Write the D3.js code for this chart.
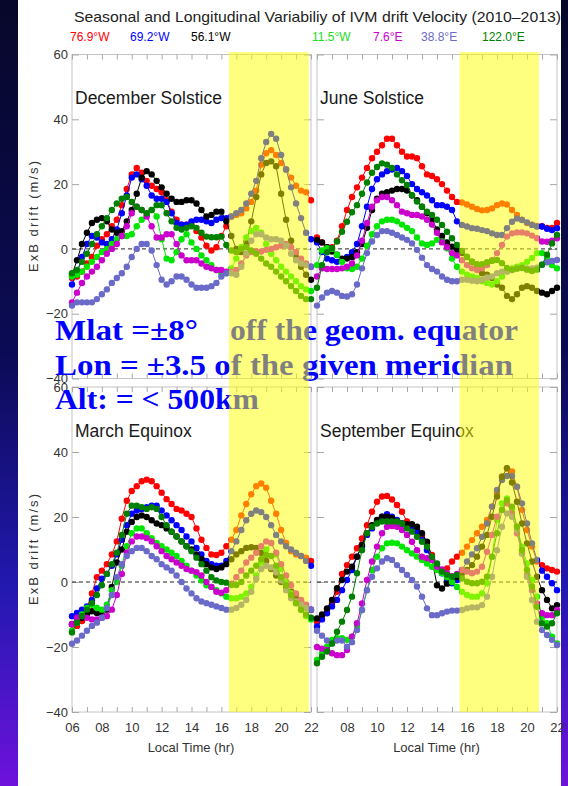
<!DOCTYPE html>
<html>
<head>
<meta charset="utf-8">
<script src="https://cdn.jsdelivr.net/npm/d3@7"></script>
<style>
  body { margin: 0; background: #fff; }
  text { font-family: "Liberation Sans", Arial, sans-serif; }
  text.note { font-family: "Liberation Serif", "Times New Roman", serif; font-weight: bold; }
</style>
</head>
<body>
<div id="chart"></div>
<script>
// ---- data (20-min steps from 06 to 22 LT) ----
var hours = d3.range(49).map(function(i){ return 6 + i / 3; });

var lonLabels = ["76.9°W", "69.2°W", "56.1°W", "11.5°W", "7.6°E", "38.8°E", "122.0°E"];
var lonColors = ["#ff0000", "#0000ff", "#000000", "#00e600", "#cc00cc", "#6a6ac8", "#008000"];
var legendX = [70, 130, 191, 312, 373, 421, 482];

// December Solstice
var decRed = [-9,-8.5,-7,-4.5,-2.5,1,3,4.5,7,9,13.5,18.5, 23,25,23.5,21,19.5,18.5,17.5,15,11.5,9,7.5,7.5,
  7.5,5.5,3.5,1,-0.5,0.5,4,7,10,10.5,11,12.5, 14.5,18,26,29.5,30.5,29,26.5,24.5,22,19.5,18,17.5, 15];
var decBlue = [-11,-7.5,-2.5,1.5,4,3.5,2,1.5,3,6,11,16.5, 22,23,21.5,19.5,16.5,15.5,15.5,14.5,11,8,7.5,7.5,
  8.5,9,9,8.5,8,9,9.5,9.5,10,11,12,14, 17,21,28,33,35.5,34,29,24.5,19,14,9.5,5, 3];
var decBlack = [-8,-3.5,1.5,5,8,9,9.5,8.5,6,5,5.5,8.5, 12,17,22,24,23,21,19,17,15.5,14.5,14.5,15,
  15,14,12,10,10.5,11.5,11.5,8.5,4,0,-1,2, 8.5,16,23,26.5,27,25.5,17,9,2.5,-2.5,-5.5,-8, -9.5];
var decLime = [-8.5,-8,-7,-5.5,-4,-2.5,-1,0,1.5,3,4,4, 4.5,7,9,10.5,12,10,3,-3,-3.5,-1,3,4.5,
  2,0,-2,-3.5,-5,-6.5,-7.5,-7.5,-6,-3,0.5,3.5, 5.5,6.5,5,1.5,-1.5,-3.5,-5.5,-7,-8.5,-10,-11.5,-12.5, -13];
var decMagenta = [-16.5,-13.5,-10.5,-8.5,-7,-5.5,-3.5,-1.5,0,1.5,4,7, 11,13,12,10,7,3.5,3.5,4.5,4.5,1.5,-2,-3.5,
  -3.5,-3.5,-4.5,-5.5,-6,-6.5,-6.5,-7,-7,-6.5,-4.5,-2, -1,-0.8,-0.8,-0.3,0,0.5,1,1.5,0.5,-1,-3,-4.5, -5.5];
var decSlate = [-17.5,-16.5,-16.5,-16.5,-16.5,-15.5,-14,-12.5,-10.5,-9,-7.5,-5.5, -2.5,0,1.5,1.5,-0.5,-5,-9.5,-11,-10,-8.5,-8.5,-9.5,
  -11,-12,-12,-12,-11.5,-10.5,-8.5,-7.5,-7.5,-8,-5.5,-1.5, 2.5,4.5,4.5,3.5,3,3,2.5,1,-1.5,-3.5,-4.5,-5, -5.5];
var decGreen = [-7.5,-6.5,-4,-1.5,1.5,4.5,7,9.5,12,14,15.5,16, 14.5,13,12,11,12,13.5,13.5,11,8.5,6.5,6,6.5,
  7,6.5,5,3.8,3.6,3.6,3.8,1.2,-0.5,-1,0,0.5, -0.5,-1.5,-3,-4.5,-5.5,-7,-8.5,-10,-11.5,-13,-14.5,-15.5, -15.5];

// June Solstice
var junRed = [3.5,2,0.5,0.5,2.5,7,12,16,19,22,25,28, 30,32,34,34,32,30,28.5,28.5,28,25.5,23,22.5,
  21.5,20,18,16,14.5,14.3,13.7,13,12.3,11.9,12,12.5, 13.5,14,13.7,12,10.5,9,8,7.5,7,7,6.5,6.5, 8];
var junBlue = [2,-1,-3,-3.5,-4,-3.5,-2.5,-1,1.5,7,13,18.5, 21.5,23,24,24.5,25,24,22.5,20,18.5,17.5,16.5,15,
  13.5,13.5,13,12,8.5,7.4,6.9,6.4,6.2,5.8,5.5,4.8, 4.3,4.3,6.4,8.4,9.4,8.9,8.2,7.4,6.9,6.9,6.2,5.8, 6.4];
var junBlack = [2.8,2,0.5,-0.8,-1.8,-3,-3,-2.5,-1,1.5,6.5,12, 15.5,17,17.5,18,18.5,18.5,18,16.5,15,13,11,9,
  6,4,2,0.7,-0.3,-1.3,-2.5,-4,-6,-7.5,-8,-9, -11,-12,-14.5,-15.5,-14,-12,-11.5,-12,-13,-13.5,-14,-13, -12];
var junLime = [-5,-0.5,0.2,0,-1.8,-4,-6,-6.2,-5.5,-3,1,4.5, 7,8.5,9,9,8.5,7.5,6.5,5.5,3.5,1.7,1.2,1.7,
  2.8,2.3,0.2,-3,-5.5,-7,-8,-8.5,-9,-10,-10.5,-11, -10,-8.5,-7,-6,-5.5,-5,-4,-2.8,-1.3,-1.3,-2.5,-5, -6];
var junMagenta = [-8.5,-6,-6.2,-6.2,-6.2,-6,-5.5,-4.5,-2,2.5,8,13, 15,16,16,15,13.5,11.5,11,10.5,10.5,10,9,7.5,
  5,2,0.5,-1.3,-2,-3.5,-5,-6,-6.5,-6,-5,-3.5, -1.3,1.2,3.8,4.8,5.1,5.1,4.8,4.1,3.3,2.3,2.2,2.5, 3.3];
var junSlate = [-17.5,-15,-13.5,-13,-13.5,-14.5,-14.7,-14,-11,-6,-1.3,2.3, 4.3,5.5,5.5,5,4.3,3.5,2.8,1.7,-0.3,-2.7,-5,-6.2,
  -7,-8.5,-9.5,-10,-10,-9.5,-9.5,-9.8,-10,-9.5,-8.8,-8.5, -7.5,-7,-7,-6.5,-6,-5.8,-6,-6,-5.8,-4.9,-4.1,-3.7, -3.4];
var junGreen = [-12,-5,-1,0.2,2.3,5.3,8.4,11.3,13.5,17,20.5,23.5, 25.3,26.4,26,25,23,21.2,19.7,16.6,14.6,13,11.5,10.5,
  9,7.4,5.3,3.3,1.2,-0.6,-2.4,-3.9,-4.7,-4.7,-4.1,-3.7, -3.4,-4.4,-5.9,-6.4,-6.1,-5.9,-6.4,-6.8,-6.4,-4.9,-1.8,1.7, 4.3];

// March Equinox
var marRed = [-13,-13.5,-12,-8,-3.5,1.5,3.5,5.5,8.5,12.5,19.5,25, 28,29.5,31,31.5,31,29.5,27.5,25.5,24,22.5,22,21,
  20,16.5,13,10.5,8.5,8.3,9,11,13,16,20.5,24, 27,29.5,30.3,29,25,21,16,12,9.5,8.5,8,7.5, 6.5];
var marBlue = [-10.5,-9.5,-8.5,-7.5,-5.5,-2,1,2.5,5,8.5,13,17.5, 21,22,22.5,23,23.5,23.5,22,20.5,19,17.5,16,14,
  12.5,10.5,8.5,6.5,5.5,5,5,6.5,9.5,12.5,16,19, 21,22,21.5,20,17.5,14.5,12.5,11,10,9,8,6.5, 5];
var marBlack = [-13,-12,-11,-10,-9,-9.5,-9.5,-8.5,-1.5,6,10,15.5, 18.5,20,20.5,20,19,18,17.5,16.5,15.5,14,12.5,11,
  10,8.5,7,5.5,4.5,4,4.5,5.5,7,8.5,9.5,10.5, 10.7,10.5,9,6.5,4,2,0,-1.5,-3,-4.5,-6,-7.5, -8.5];
var marLime = [-15,-12.5,-10,-8,-7,-8,-8.5,-7,-2.5,0,5,11, 15,16.5,16.5,15,13.5,12,11,10,9,8,6.5,5,
  3.5,2,0.5,-1,-1.5,-2.5,-3.5,-4.5,-5,-5,-4.5,-3.5, -1.5,2,6,10,12,8.5,4,0,-3.5,-6.5,-8.5,-10.5, -11.5];
var marMagenta = [-13,-11,-10.5,-11,-11.5,-11.5,-11,-10.5,-8.5,-4,2.5,9, 12.5,14,14,13.5,12.5,11,9.5,8,7,6,5,4,
  3.5,3,2,0,-1.5,-3,-3.3,-2.5,-0.5,1.5,3.5,6, 7.5,9,11,12.5,12,9,5.5,2,-1,-3.5,-5.5,-7, -8.5];
var marSlate = [-19,-18,-16.5,-15,-13.5,-12.5,-11,-8,-4,1.5,5.5,8, 9.5,10.5,10.5,9.5,8,7,5.5,4.5,3.5,2,0,-2,
  -3.5,-5,-6,-6.5,-7,-7.5,-8,-8.5,-8.5,-8,-7,-5.5, -3,1,4,5,4.5,3,0.5,-2.5,-5,-6,-7,-8, -8.5];
var marGreen = [-15.5,-12.5,-10.5,-8.5,-6.5,-4,-1,2.5,5.5,9,14.5,21, 23.5,23.5,23,22.5,23,22.5,20,17.5,15.5,14,12.5,11,
  9.5,7.5,5.5,3.5,1.5,0.5,0,-0.2,-0.9,-0.9,0,2, 3.5,5,7,8.3,8,5,1.5,-1,-4,-6.5,-8.5,-10, -11];

// September Equinox
var sepRed = [-12.2,-10.5,-8.6,-6.6,-3,2.5,5.2,7.8,10.4,13.4,17.5,21.6, 24.7,26.3,26.5,25.4,23.7,21.6,18.6,17.5,16.2,14.5,11.9,8.3,
  4.5,3.2,4.2,6.3,7.8,9,10.9,12.9,15,17,19.1,23.2, 27.3,32.4,35,34,29.3,22.2,16,10.9,6.3,5.2,4.2,3.7, 3.2];
var sepBlue = [-13.7,-11.5,-9.6,-7.5,-5.5,-2.5,0.6,3.7,7.8,10.9,14.5,16.5, 18.6,20.1,20.9,20.1,19.1,18,17.5,17,15.5,12.9,9.8,6.8,
  5.2,2.7,0.6,-0.4,0.6,3.7,6.3,8.5,10.4,13.9,18,23.2, 28.3,31.4,32.6,32.6,29.3,24.2,18,11.9,6.8,3.5,1.6,-0.4, -2.5];
var sepBlack = [-11.2,-10,-8.1,-5.5,-1.9,0.6,3.2,4.7,7.8,11.4,15,17.5, 19.1,20.1,20.1,19.6,18.6,18,17.8,17.8,17,15,12.4,7,
  -1,-2,-0.5,1.1,1.6,2.7,3.7,5.2,7.8,10.9,14.5,20.1, 26.3,32.4,35,30.6,24.7,18,11.9,6.3,1.6,-2.5,-5.5,-8.1, -7.1];
var sepLime = [-24,-22,-19.9,-17.8,-17.3,-17.3,-17.8,-16.8,-13.7,-8.6,-2.5,3.7, 7.8,10.4,11.9,12.1,11.9,10.9,9.8,8.8,7.8,6.8,5.7,4.7,
  3.7,2.7,1.5,0,-1.5,-3,-4,-4.5,-4.5,-3.5,-0.4,7.8, 19.1,24.2,25.7,22.2,17,10.9,5.7,0.6,-4.5,-10.7,-12.7,-16.8, -18.9];
var sepMagenta = [-20,-20.5,-20.9,-21.9,-22.5,-22.5,-20.9,-16.8,-12.7,-6.6,0.6,6.3, 10.9,15,17,17.2,17,16,14.5,12.4,9.8,7.8,7.3,6.8,
  4.7,3.9,2.7,1.8,2.5,3.7,3.2,2.7,3.2,4.7,9.3,14.5, 20.1,22.2,24.2,21.1,15,8.8,2.2,-2.5,-6.6,-9.6,-10.2,-10.2, -8.6];
var sepSlate = [-15,-16.5,-18,-18.9,-18,-18,-19.9,-18.5,-14.8,-8.6,-2.5,1.6, 4.2,6.3,7.3,6.8,5.2,3.7,2.2,0.6,-1.4,-4.5,-8.1,-10.2,
  -10.2,-9.6,-9.1,-8.8,-8.8,-8.6,-8.1,-7.8,-7.8,-7.1,-4.5,1.6, 9.8,17,21.1,20.1,16,8.8,1.6,-5.5,-12.2,-14.8,-16.3,-17.8, -19.4];
var sepGreen = [-25,-23,-21.4,-18.9,-15.3,-12.2,-8.6,-4.5,2.7,9.8,15,17, 18,18.6,18.6,18.6,18.6,18,16.5,15.5,13.9,12.4,10.9,7.8,
  5.7,3.2,2.2,1.6,2.2,1.1,0.1,-0.4,-0.4,0.1,1.6,7.8, 15,22.2,25.2,23.2,17,9.8,3.7,-1.4,-7.6,-12.7,-13.7,-12.7, -9.6];

var seasonTitles = ["December Solstice", "June Solstice", "March Equinox", "September Equinox"];
var seasonSeries = [
  [decRed, decBlue, decBlack, decLime, decMagenta, decSlate, decGreen],
  [junRed, junBlue, junBlack, junLime, junMagenta, junSlate, junGreen],
  [marRed, marBlue, marBlack, marLime, marMagenta, marSlate, marGreen],
  [sepRed, sepBlue, sepBlack, sepLime, sepMagenta, sepSlate, sepGreen]
];
var yTicks = [-40, -20, 0, 20, 40, 60];
// shaded local-time windows (left column, right column)
var bandHours = [[16.5, 21.85], [15.5, 20.8]];
var noteLines = ["Lon = \u00b13.5 of the given meridian", "Alt: = < 500km"];

// ---- layout ----
var W = 568, H = 786;
var colX = [[72, 311], [317, 557]];
var rowY = [[378.5, 54.5], [712, 387]];

var svg = d3.select("#chart").append("svg")
    .attr("width", W)
    .attr("height", H);

// dark slide border
var defs = svg.append("defs");
var grad = defs.append("linearGradient").attr("id", "frameGrad")
    .attr("x1", 0).attr("y1", 0).attr("x2", 0).attr("y2", 1);
[["0%", "#07072a"], ["45%", "#0b0b55"], ["75%", "#2318b0"], ["100%", "#6e12dc"]].forEach(function(s){
    grad.append("stop").attr("offset", s[0]).attr("stop-color", s[1]);
});
svg.append("rect").attr("width", W).attr("height", H).attr("fill", "url(#frameGrad)");
svg.append("rect").attr("x", 18).attr("y", 0).attr("width", 543).attr("height", H).attr("fill", "#fff");

// title + legend
svg.append("text")
    .attr("x", 74).attr("y", 22)
    .attr("font-size", 15).attr("fill", "#222")
    .attr("textLength", 487).attr("lengthAdjust", "spacingAndGlyphs")
    .text("Seasonal and Longitudinal Variabiliy of IVM drift Velocity (2010\u20132013)");

svg.selectAll(".legend").data(lonLabels).enter().append("text")
    .attr("class", "legend")
    .attr("x", function(d, i){ return legendX[i]; })
    .attr("y", 41)
    .attr("font-size", 12)
    .attr("fill", function(d, i){ return i === 3 ? "#22dd22" : lonColors[i]; })
    .text(function(d){ return d; });

// panels
seasonSeries.forEach(function(series, p){
    var col = p % 2, row = Math.floor(p / 2);
    var x = d3.scaleLinear().domain([6, 22]).range(colX[col]);
    var y = d3.scaleLinear().domain([-40, 60]).range(rowY[row]);
    var g = svg.append("g").attr("class", "panel");

    g.append("rect")
        .attr("x", x(6)).attr("y", y(60))
        .attr("width", x(22) - x(6)).attr("height", y(-40) - y(60))
        .attr("fill", "none").attr("stroke", "#c4c4c4");

    var xb = g.append("g").attr("transform", "translate(0," + y(-40) + ")")
        .call(d3.axisBottom(x).tickValues(d3.range(6, 23)).tickSize(-5).tickPadding(11)
            .tickFormat(function(d){
                if (row === 0 || d % 2 !== 0 || (col === 1 && d === 6)) return "";
                return d3.format("02d")(d);
            }));
    var xt = g.append("g").attr("transform", "translate(0," + y(60) + ")")
        .call(d3.axisTop(x).tickValues(d3.range(6, 23)).tickSize(-5).tickFormat(""));
    var yl = g.append("g").attr("transform", "translate(" + x(6) + ",0)")
        .call(d3.axisLeft(y).tickValues(yTicks).tickSize(-7).tickPadding(4)
            .tickFormat(function(d){ return col === 0 ? d3.format("d")(d) : ""; }));
    var yr = g.append("g").attr("transform", "translate(" + x(22) + ",0)")
        .call(d3.axisRight(y).tickValues(yTicks).tickSize(-7).tickFormat(""));
    [xb, xt, yl, yr].forEach(function(a){
        a.select(".domain").remove();
        a.selectAll(".tick line").attr("stroke", "#a8a8a8");
        a.selectAll(".tick text").attr("fill", "#333").attr("font-size", 13);
    });

    // zero line
    g.append("line")
        .attr("x1", x(6)).attr("x2", x(22))
        .attr("y1", y(0)).attr("y2", y(0))
        .attr("stroke", "#222").attr("stroke-dasharray", "4,3");

    var line = d3.line()
        .x(function(d, i){ return x(hours[i]); })
        .y(function(d){ return y(d); });

    series.forEach(function(vals, s){
        var sg = g.append("g");
        sg.append("path").datum(vals)
            .attr("d", line)
            .attr("fill", "none")
            .attr("stroke", lonColors[s])
            .attr("stroke-width", 1);
        sg.selectAll("circle").data(vals).enter().append("circle")
            .attr("cx", function(d, i){ return x(hours[i]); })
            .attr("cy", function(d){ return y(d); })
            .attr("r", 3.2)
            .attr("fill", lonColors[s]);
    });

    g.append("text")
        .attr("x", x(6) + 3)
        .attr("y", row === 0 ? 104 : 437)
        .attr("font-size", 17.5).attr("fill", "#1a1a1a")
        .text(seasonTitles[p]);

    if (col === 0) {
        var cy = (rowY[row][0] + rowY[row][1]) / 2;
        g.append("text")
            .attr("transform", "translate(38," + cy + ") rotate(-90)")
            .attr("text-anchor", "middle")
            .attr("font-size", 13).attr("fill", "#333")
            .attr("textLength", 111).attr("lengthAdjust", "spacing")
            .text("ExB drift (m/s)");
    }
    if (row === 1) {
        g.append("text")
            .attr("x", (colX[col][0] + colX[col][1]) / 2 - 0.5)
            .attr("y", 752)
            .attr("text-anchor", "middle")
            .attr("font-size", 13).attr("fill", "#333")
            .text("Local Time (hr)");
    }
});

// blue annotation text (serif, bold)
var note = svg.append("g").attr("fill", "#0000ff");
function noteText(x, y, len, str){
    note.append("text").attr("class", "note")
        .attr("x", x).attr("y", y)
        .attr("font-size", 30)
        .attr("textLength", len).attr("lengthAdjust", "spacingAndGlyphs")
        .text(str);
}
noteText(55, 340, 143, "Mlat =\u00b18\u00b0");
noteText(230, 340, 288, "off the geom. equator");
noteText(55, 375, 458, noteLines[0]);
noteText(55, 409, 204, noteLines[1]);

// translucent yellow windows drawn on top of everything
bandHours.forEach(function(b, col){
    var x = d3.scaleLinear().domain([6, 22]).range(colX[col]);
    svg.append("rect")
        .attr("x", x(b[0])).attr("y", 52)
        .attr("width", x(b[1]) - x(b[0]))
        .attr("height", 712 - 52)
        .attr("fill", "#ffff00")
        .attr("fill-opacity", 0.5);
});
</script>
</body>
</html>
